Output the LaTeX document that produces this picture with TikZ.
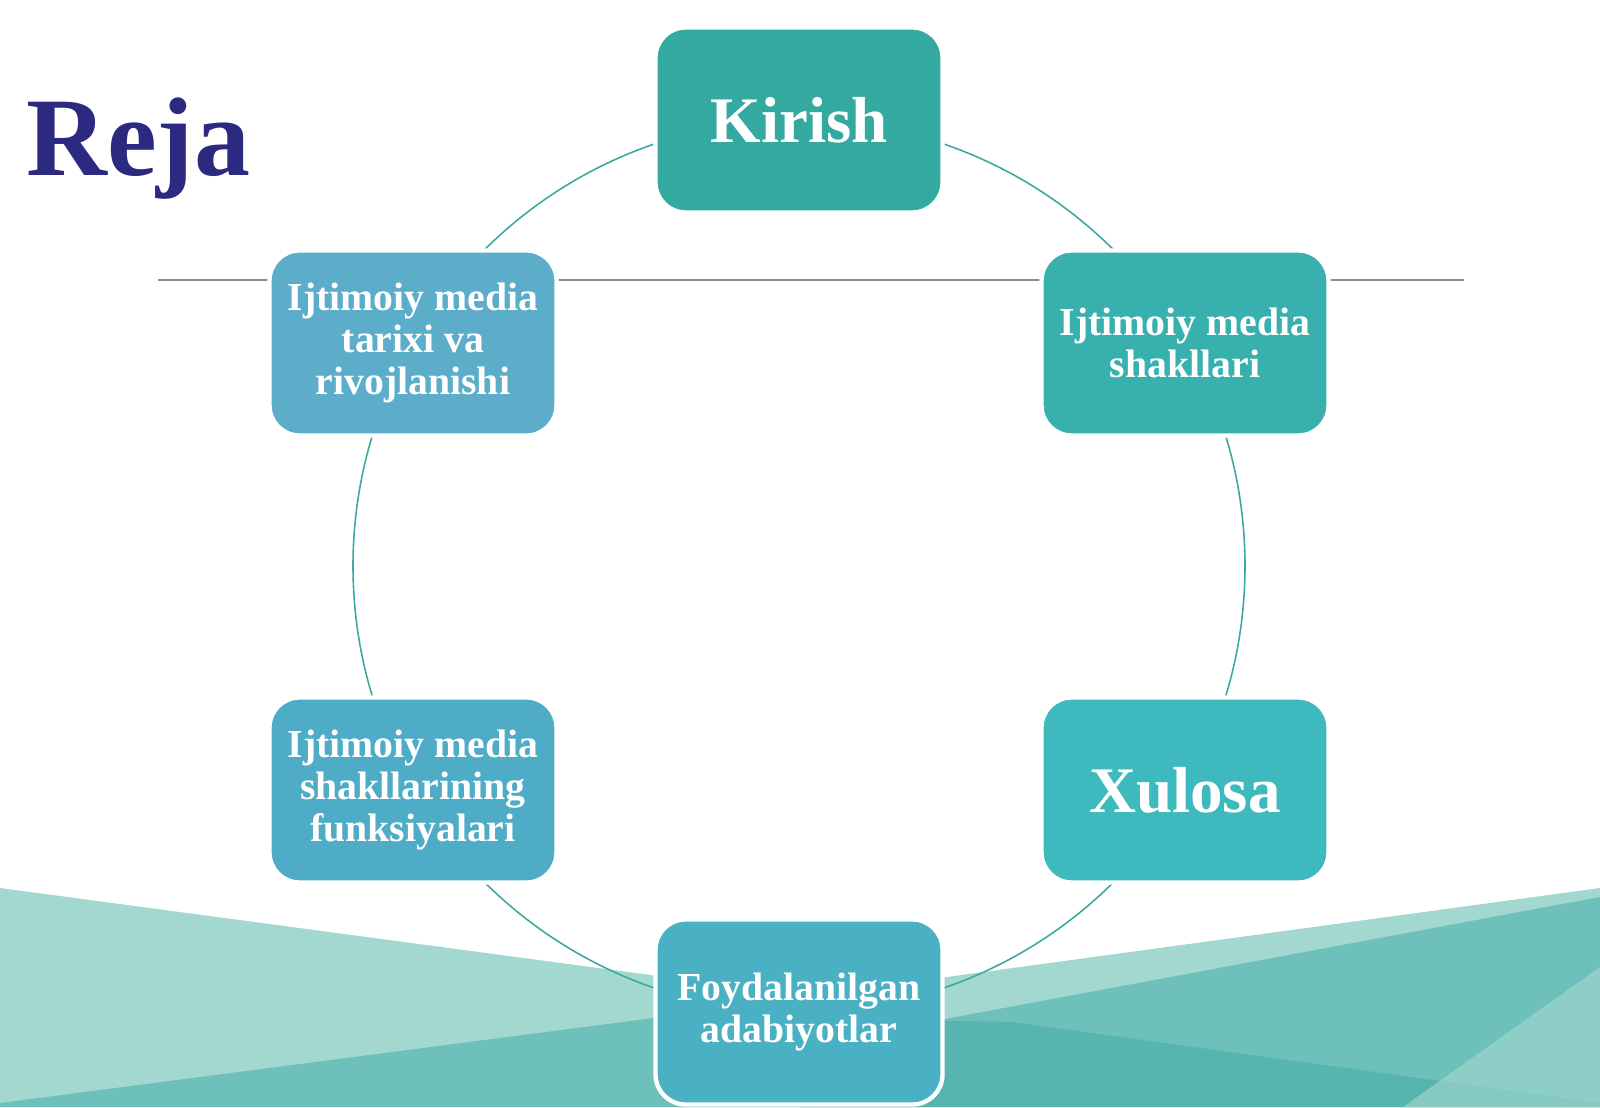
\documentclass[tikz,border=0pt]{standalone}
\usepackage{fontspec}
\setmainfont{Liberation Serif}
\definecolor{lightteal}{RGB}{163,216,208}
\definecolor{midteal}{RGB}{110,193,187}
\definecolor{darkteal}{RGB}{86,181,174}
\definecolor{ringcol}{RGB}{58,170,160}
\definecolor{rulecol}{RGB}{138,138,154}
\definecolor{rejablue}{RGB}{43,41,128}
\definecolor{boxA}{RGB}{51,169,159}
\definecolor{boxB}{RGB}{56,176,174}
\definecolor{boxC}{RGB}{62,185,190}
\definecolor{boxD}{RGB}{74,176,196}
\definecolor{boxE}{RGB}{78,172,198}
\definecolor{boxF}{RGB}{91,173,201}
\begin{document}
\begin{tikzpicture}[x=0.2mm,y=0.2mm,
    box/.style={rounded corners=6mm,draw=white,line width=2.5pt,minimum width=57.4mm,
      minimum height=37mm,align=center,text=white,font=\bfseries\fontsize{22.6}{24}\selectfont},
    big/.style={font=\bfseries\fontsize{37}{40}\selectfont}]
  \useasboundingbox (0,0) rectangle (1600,1107);
  \fill[lightteal] (0,219) -- (800,112) -- (800,0) -- (0,0) -- cycle;
  \fill[midteal] (0,4) -- (800,108) -- (800,0) -- (0,0) -- cycle;
  \fill[lightteal] (800,110) -- (1600,219) -- (1600,0) -- (800,0) -- cycle;
  \fill[midteal] (800,61) -- (1600,210) -- (1600,0) -- (800,0) -- cycle;
  \fill[darkteal] (800,89) -- (1012,85) -- (1600,4) -- (1600,0) -- (800,0) -- cycle;
  \fill[lightteal,opacity=0.6] (1600,140) -- (1403,0) -- (1600,0) -- cycle;

  \coordinate (O) at (799,541);
  \coordinate (L1) at (158,827);
  \coordinate (L2) at (1464,827);
  \draw[ringcol,line width=0.9pt] (O) circle (446);
  \draw[rulecol,line width=0.9pt] (L1) -- (L2);

  \node[box,fill=boxA,big] (A) at (799,987) {Kirish};
  \node[box,fill=boxB] (B) at (1185,764) {Ijtimoiy media\\shakllari};
  \node[box,fill=boxC,big] (C) at (1185,317) {Xulosa};
  \node[box,fill=boxD] (D) at (799,95) {Foydalanilgan\\adabiyotlar};
  \node[box,fill=boxE] (E) at (413,317) {Ijtimoiy media\\shakllarining\\funksiyalari};
  \node[box,fill=boxF] (F) at (413,764) {Ijtimoiy media\\tarixi va\\rivojlanishi};

  \node[anchor=base west,inner sep=0,text=rejablue,font=\bfseries\fontsize{63.7}{70}\selectfont] (T) at (26,931) {Reja};
\end{tikzpicture}
\end{document}
